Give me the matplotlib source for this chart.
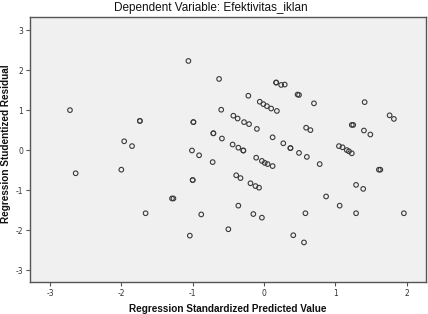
import matplotlib
matplotlib.use("Agg")
import matplotlib.pyplot as plt

# Regression standardized predicted value (x) and studentized residual (y)
pred = [-2.72, -2.64,
        -1.74, -1.74, -1.96, -1.85, -2.00, -1.29, -1.27, -1.66,
        -1.06, -0.63, -0.22, -0.60, -0.99, -0.99, -0.43, -0.37, -0.28, -0.21,
        -0.10, -0.71, -0.71, -0.59, -0.44, -0.36, -0.29, -0.29, -1.01, -0.91,
        -0.11, -0.72, -1.00, -1.00, -0.39, -0.33, -0.19, -0.12, -0.07, -0.36,
        -0.88, -0.15, -0.50, -1.04,
        0.17, 0.17, 0.24, 0.29, 0.47, 0.49, 0.70, -0.06, -0.01, 0.04, 0.10,
        0.18, 0.12, 0.59, 0.65, 0.27, 0.37, 0.37, 0.49, 0.60, 0.78, -0.03,
        0.01, 0.05, 0.12, 0.87, -0.03, 0.58, 0.41, 0.56,
        1.41, 1.76, 1.82, 1.23, 1.25, 1.40, 1.49, 1.05, 1.10, 1.16, 1.19,
        1.23, 1.61, 1.63, 1.29, 1.39, 1.06, 1.29, 1.96]
resid = [1.00, -0.58,
         0.73, 0.73, 0.22, 0.10, -0.49, -1.21, -1.21, -1.58,
         2.23, 1.78, 1.36, 1.01, 0.70, 0.70, 0.86, 0.79, 0.70, 0.65,
         0.53, 0.42, 0.42, 0.29, 0.14, 0.06, -0.01, -0.01, -0.01, -0.13,
         -0.19, -0.30, -0.75, -0.75, -0.63, -0.70, -0.83, -0.90, -0.94, -1.39,
         -1.61, -1.60, -1.98, -2.14,
         1.69, 1.69, 1.63, 1.64, 1.39, 1.38, 1.17, 1.21, 1.15, 1.10, 1.04,
         0.98, 0.32, 0.56, 0.50, 0.17, 0.05, 0.05, -0.07, -0.17, -0.35, -0.27,
         -0.32, -0.35, -0.40, -1.16, -1.69, -1.58, -2.13, -2.31,
         1.20, 0.87, 0.78, 0.63, 0.63, 0.49, 0.39, 0.10, 0.07, 0.00, -0.03,
         -0.08, -0.49, -0.49, -0.87, -0.97, -1.39, -1.58, -1.58]

xticks = [-3, -2, -1, 0, 1, 2]
yticks = [-3, -2, -1, 0, 1, 2, 3]

fig = plt.figure(figsize=(4.28, 3.14), dpi=100)
fig.patch.set_facecolor("white")
ax = fig.add_axes([30/428, 1-282/314, 396/428, 265/314])
ax.set_facecolor("#f0f0f0")

ax.scatter(pred, resid, s=11, facecolors="none", edgecolors="#3a3a3a",
           linewidths=0.8, zorder=3)

ax.set_xlim(-3.28, 2.27)
ax.set_ylim(-3.3, 3.33)
ax.set_xticks(xticks)
ax.set_yticks(yticks)
ax.set_xticklabels([str(t) for t in xticks])
ax.set_yticklabels([str(t) for t in yticks])
ax.tick_params(axis="both", labelsize=5.5, length=3, width=0.8,
               color="#555555", labelcolor="#333333", pad=2)
for side in ["top", "right", "bottom", "left"]:
    ax.spines[side].set_color("#555555")
    ax.spines[side].set_linewidth(1.0)

fig.text(211/428, 1-8/314, "Dependent Variable: Efektivitas_iklan",
         ha="center", va="center", fontsize=8.5, family="Liberation Sans",
         color="#111111")
fig.text(228/428, 1-309/314, "Regression Standardized Predicted Value",
         ha="center", va="center", fontsize=7.2, fontweight="bold",
         family="Liberation Sans", color="#111111")
fig.text(6/428, 1-144/314, "Regression Studentized Residual",
         ha="center", va="center", rotation=90, fontsize=7.2,
         fontweight="bold", family="Liberation Sans", color="#111111")

fig.savefig("out.png", dpi=100)
